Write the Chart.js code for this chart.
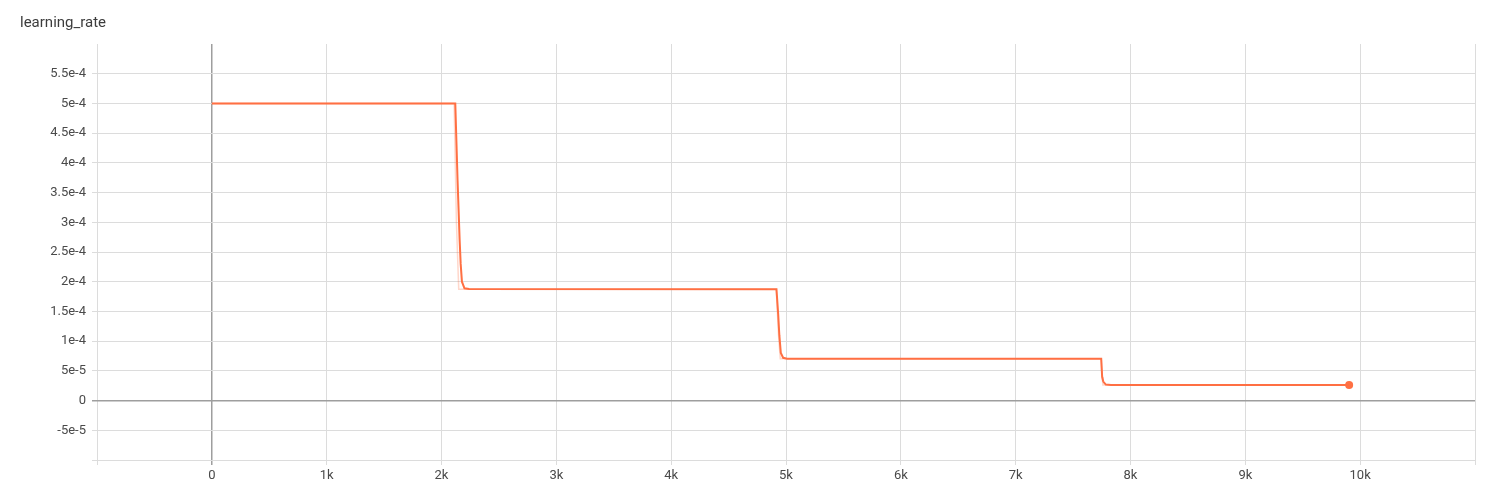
<!DOCTYPE html>
<html>
<head>
<meta charset="utf-8">
<script src="https://cdn.jsdelivr.net/npm/chart.js@4/dist/chart.umd.min.js"></script>
<style>
  html, body { margin: 0; padding: 0; background: #fff; }
  #wrap { position: relative; width: 1493px; height: 484px; }
</style>
</head>
<body>
<div id="wrap"><canvas id="c"></canvas></div>
<script>
const chartTitle = 'learning_rate';

// raw (unsmoothed) series
const rawSteps  = [0, 2110, 2130, 2150, 4915, 4935, 4950, 7745, 7752, 7760, 9900];
const rawValues = [5e-4, 5e-4, 3.0e-4, 1.875e-4, 1.875e-4, 1.1e-4, 7.03e-5, 7.03e-5, 4.0e-5, 2.64e-5, 2.64e-5];

// smoothed series
const smoothSteps  = [0, 2120, 2140, 2158, 2167, 2178, 2200, 2240, 4917, 4932, 4942, 4955, 4975, 5010, 7745, 7753, 7763, 7785, 7830, 9904];
const smoothValues = [5e-4, 5e-4, 3.7e-4, 2.7e-4, 2.3e-4, 2.0e-4, 1.89e-4, 1.876e-4, 1.875e-4, 1.45e-4, 1.1e-4, 8.0e-5, 7.2e-5, 7.04e-5, 7.03e-5, 4.0e-5, 3.2e-5, 2.7e-5, 2.64e-5, 2.64e-5];

const xTickValues = [-1000, 0, 1000, 2000, 3000, 4000, 5000, 6000, 7000, 8000, 9000, 10000, 11000];
const xTickLabels = ['', '0', '1k', '2k', '3k', '4k', '5k', '6k', '7k', '8k', '9k', '10k', ''];

const yTickValues = [-1e-4, -5e-5, 0, 5e-5, 1e-4, 1.5e-4, 2e-4, 2.5e-4, 3e-4, 3.5e-4, 4e-4, 4.5e-4, 5e-4, 5.5e-4];
const yTickLabels = ['', '-5e-5', '0', '5e-5', '1e-4', '1.5e-4', '2e-4', '2.5e-4', '3e-4', '3.5e-4', '4e-4', '4.5e-4', '5e-4', '5.5e-4'];

const lineColor = '#ff7043';

const rawData = rawSteps.map((s, i) => ({ x: s, y: rawValues[i] }));
const smoothData = smoothSteps.map((s, i) => ({ x: s, y: smoothValues[i] }));

const titlePlugin = {
  id: 'topTitle',
  afterDraw(chart) {
    const ctx = chart.ctx;
    ctx.save();
    ctx.font = '15px Roboto';
    ctx.fillStyle = '#3c3c3c';
    ctx.textBaseline = 'middle';
    ctx.textAlign = 'left';
    ctx.fillText(chartTitle, 20, 23);
    ctx.restore();
  }
};

function labelFor(values, labels, v) {
  for (let i = 0; i < values.length; i++) {
    if (Math.abs(values[i] - v) < 1e-12) return labels[i];
  }
  return '';
}

new Chart(document.getElementById('c'), {
  type: 'line',
  data: {
    datasets: [
      {
        data: rawData,
        borderColor: 'rgba(255,112,67,0.28)',
        borderWidth: 1.5,
        pointRadius: 0,
        tension: 0,
        fill: false
      },
      {
        data: smoothData,
        borderColor: lineColor,
        backgroundColor: lineColor,
        borderWidth: 2,
        pointRadius: (ctx) => ctx.dataIndex === smoothData.length - 1 ? 4 : 0,
        pointBorderWidth: 0,
        tension: 0,
        fill: false
      }
    ]
  },
  plugins: [titlePlugin],
  options: {
    responsive: true,
    maintainAspectRatio: false,
    animation: false,
    layout: { padding: { top: 44, right: 18, bottom: 0, left: 0 } },
    plugins: { legend: { display: false }, tooltip: { enabled: false }, title: { display: false } },
    scales: {
      x: {
        type: 'linear',
        min: -1000,
        max: 11000,
        afterBuildTicks: (scale) => { scale.ticks = xTickValues.map(v => ({ value: v })); },
        afterFit: (scale) => { scale.height = 24; },
        ticks: {
          autoSkip: false,
          maxRotation: 0,
          padding: 3,
          color: '#4a4a4a',
          font: { family: 'Roboto', size: 13 },
          callback: (v) => labelFor(xTickValues, xTickLabels, v)
        },
        grid: {
          color: (ctx) => (ctx.tick && ctx.tick.value === 0) ? '#9e9e9e' : '#dcdcdc',
          lineWidth: (ctx) => (ctx.tick && ctx.tick.value === 0) ? 1.5 : 1,
          tickLength: 5
        },
        border: { display: false }
      },
      y: {
        type: 'linear',
        min: -1e-4,
        max: 6e-4,
        afterBuildTicks: (scale) => { scale.ticks = yTickValues.map(v => ({ value: v })); },
        afterFit: (scale) => { scale.width = 97; },
        ticks: {
          autoSkip: false,
          padding: 6,
          color: '#4a4a4a',
          font: { family: 'Roboto', size: 13 },
          callback: (v) => labelFor(yTickValues, yTickLabels, v)
        },
        grid: {
          color: (ctx) => (ctx.tick && ctx.tick.value === 0) ? '#9e9e9e' : '#dcdcdc',
          lineWidth: (ctx) => (ctx.tick && ctx.tick.value === 0) ? 1.5 : 1,
          tickLength: 5
        },
        border: { display: false }
      }
    }
  }
});
</script>
</body>
</html>
